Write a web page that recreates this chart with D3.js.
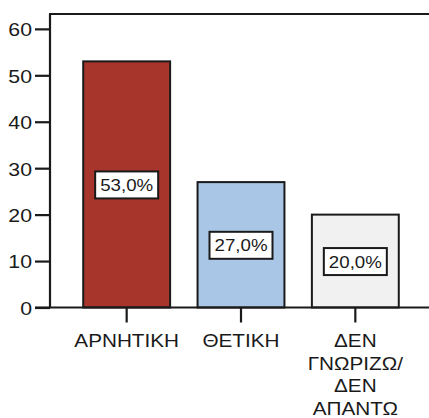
<!DOCTYPE html>
<html>
<head>
<meta charset="utf-8">
<script src="https://cdn.jsdelivr.net/npm/d3@7"></script>
<style>
  html, body { margin: 0; padding: 0; background: #fff; }
  svg { display: block; }
  text { font-family: "Liberation Sans", Arial, sans-serif; fill: #1a1a1a; }
</style>
</head>
<body>
<svg id="chart" width="429" height="418"></svg>
<script>
const categories = ["ΑΡΝΗΤΙΚΗ", "ΘΕΤΙΚΗ", "ΔΕΝ ΓΝΩΡΙΖΩ/ ΔΕΝ ΑΠΑΝΤΩ"];
const categoryLines = [["ΑΡΝΗΤΙΚΗ"], ["ΘΕΤΙΚΗ"], ["ΔΕΝ", "ΓΝΩΡΙΖΩ/", "ΔΕΝ", "ΑΠΑΝΤΩ"]];
const values = [53, 27, 20];
const valueLabels = ["53,0%", "27,0%", "20,0%"];
const barColors = ["#a8352b", "#a9c6e6", "#f1f1f1"];
const yTicks = [0, 10, 20, 30, 40, 50, 60];

const W = 429, H = 418;
const plotLeft = 50, plotTop = 14, plotBottom = 307.5;
const sx = 1.12;

const svg = d3.select("#chart");

const y = d3.scaleLinear().domain([0, 63.2]).range([plotBottom, plotTop]);
const x = d3.scaleBand().domain(categories).range([69.5, 412.5])
  .paddingInner(0.24).paddingOuter(0.12);

// bars
svg.append("g").selectAll("rect").data(values).join("rect")
  .attr("x", (d, i) => x(categories[i]))
  .attr("y", d => y(d))
  .attr("width", x.bandwidth())
  .attr("height", d => y(0) - y(d))
  .attr("fill", (d, i) => barColors[i])
  .attr("stroke", "#1a1a1a")
  .attr("stroke-width", 2);

// frame
svg.append("line").attr("x1", plotLeft).attr("x2", plotLeft)
  .attr("y1", plotTop).attr("y2", plotBottom)
  .attr("stroke", "#1a1a1a").attr("stroke-width", 2.2);
svg.append("line").attr("x1", plotLeft - 1).attr("x2", W)
  .attr("y1", plotTop).attr("y2", plotTop)
  .attr("stroke", "#1a1a1a").attr("stroke-width", 2.2);
svg.append("line").attr("x1", 35).attr("x2", W)
  .attr("y1", plotBottom).attr("y2", plotBottom)
  .attr("stroke", "#1a1a1a").attr("stroke-width", 2.2);

// y axis
const yAxis = svg.append("g").attr("transform", `translate(${plotLeft},0)`)
  .call(d3.axisLeft(y).tickValues(yTicks).tickSize(15).tickPadding(3).tickFormat(d3.format("d")));
yAxis.select(".domain").remove();
yAxis.selectAll(".tick line").attr("stroke", "#1a1a1a").attr("stroke-width", 2.2);
yAxis.selectAll(".tick text")
  .attr("x", null)
  .attr("dy", "0.36em")
  .attr("transform", `translate(-18,0) scale(${sx},1)`)
  .style("font-size", "19px")
  .style("font-family", "'Liberation Sans', Arial, sans-serif")
  .attr("fill", "#1a1a1a");

// x axis
const xAxis = svg.append("g").attr("transform", `translate(0,${plotBottom})`)
  .call(d3.axisBottom(x).tickSize(15).tickPadding(0));
xAxis.select(".domain").remove();
xAxis.selectAll(".tick line").attr("stroke", "#1a1a1a").attr("stroke-width", 2.2);
xAxis.selectAll(".tick text").each(function(d, i) {
  const t = d3.select(this);
  t.text(null)
    .attr("y", null).attr("dy", null)
    .attr("transform", `translate(0,39.5) scale(${sx},1)`)
    .style("font-size", "18.5px")
    .style("font-family", "'Liberation Sans', Arial, sans-serif")
    .attr("fill", "#1a1a1a");
  const idx = categories.indexOf(d);
  categoryLines[idx].forEach((ln, j) => {
    t.append("tspan").attr("x", 0).attr("y", j * 22.7).text(ln);
  });
});

// value labels
const lg = svg.append("g");
values.forEach((v, i) => {
  const cx = x(categories[i]) + x.bandwidth() / 2;
  const cy = (y(v) + y(0)) / 2 + 0.5;
  const g = lg.append("g").attr("transform", `translate(${cx},${cy})`);
  const box = g.append("rect");
  const t = g.append("text")
    .attr("text-anchor", "middle")
    .attr("dy", "0.36em")
    .attr("transform", `scale(1.1,1)`)
    .style("font-size", "17px")
    .text(valueLabels[i]);
  const w = t.node().getComputedTextLength() * 1.1 + 10;
  const h = 27;
  box.attr("x", -w / 2).attr("y", -h / 2).attr("width", w).attr("height", h)
    .attr("fill", "#fff").attr("stroke", "#1a1a1a").attr("stroke-width", 2);
});
</script>
</body>
</html>
